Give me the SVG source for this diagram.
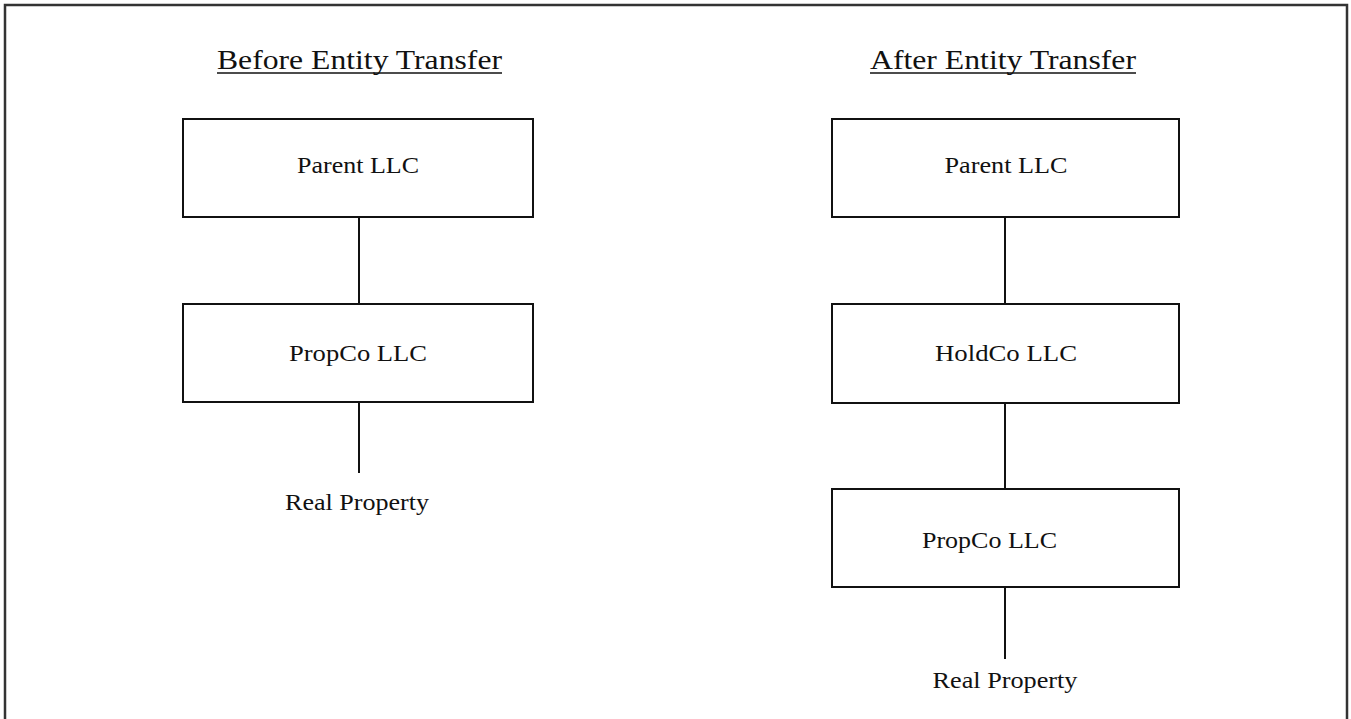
<svg xmlns="http://www.w3.org/2000/svg" width="1351" height="719" viewBox="0 0 1351 719">
<style>
.box{fill:#fff;stroke:#111;stroke-width:2}
.lbl{font-family:"Liberation Serif","Times New Roman",serif;font-size:24px;fill:#111;text-anchor:middle}
.ttl{font-family:"Liberation Serif","Times New Roman",serif;font-size:28px;fill:#111;text-anchor:middle}
.con{stroke:#111;stroke-width:2;fill:none}
</style>
<rect x="0" y="0" width="1351" height="719" fill="#fff"/>
<rect x="5" y="5" width="1342" height="720" fill="none" stroke="#333" stroke-width="2.5"/>
<g id="title-before">
<text class="ttl" x="359.5" y="69" textLength="285" lengthAdjust="spacingAndGlyphs">Before Entity Transfer</text>
<line x1="217" y1="73" x2="502" y2="73" stroke="#111" stroke-width="1.5"/>
</g>
<g id="title-after">
<text class="ttl" x="1003" y="69" textLength="266" lengthAdjust="spacingAndGlyphs">After Entity Transfer</text>
<line x1="870" y1="73" x2="1136" y2="73" stroke="#111" stroke-width="1.5"/>
</g>
<g id="connectors">
<line class="con" x1="359" y1="217" x2="359" y2="304"/>
<line class="con" x1="359" y1="402" x2="359" y2="473"/>
<line class="con" x1="1005" y1="217" x2="1005" y2="304"/>
<line class="con" x1="1005" y1="403" x2="1005" y2="489"/>
<line class="con" x1="1005" y1="587" x2="1005" y2="659"/>
</g>
<g id="before-parent">
<rect class="box" x="183" y="119" width="350" height="98"/>
<text class="lbl" x="358" y="173" textLength="122" lengthAdjust="spacingAndGlyphs">Parent LLC</text>
</g>
<g id="before-propco">
<rect class="box" x="183" y="304" width="350" height="98"/>
<text class="lbl" x="358" y="361" textLength="138" lengthAdjust="spacingAndGlyphs">PropCo LLC</text>
</g>
<g id="before-realproperty">
<text class="lbl" x="357" y="510" textLength="144" lengthAdjust="spacingAndGlyphs">Real Property</text>
</g>
<g id="after-parent">
<rect class="box" x="832" y="119" width="347" height="98"/>
<text class="lbl" x="1006" y="173" textLength="123" lengthAdjust="spacingAndGlyphs">Parent LLC</text>
</g>
<g id="after-holdco">
<rect class="box" x="832" y="304" width="347" height="99"/>
<text class="lbl" x="1006" y="361" textLength="142" lengthAdjust="spacingAndGlyphs">HoldCo LLC</text>
</g>
<g id="after-propco">
<rect class="box" x="832" y="489" width="347" height="98"/>
<text class="lbl" x="989.5" y="548" textLength="135" lengthAdjust="spacingAndGlyphs">PropCo LLC</text>
</g>
<g id="after-realproperty">
<text class="lbl" x="1005" y="688" textLength="145" lengthAdjust="spacingAndGlyphs">Real Property</text>
</g>
</svg>
